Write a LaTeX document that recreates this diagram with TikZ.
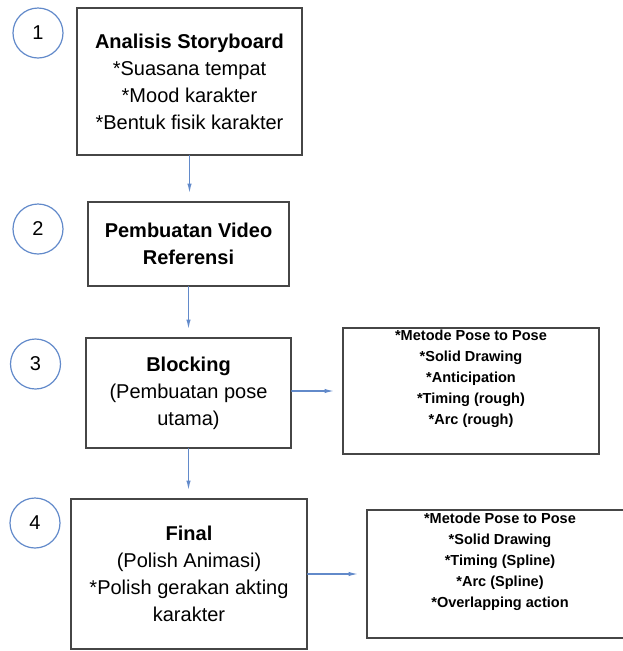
\documentclass[tikz,border=0pt]{standalone}
\usepackage{fontspec}
\setmainfont{Liberation Sans}
\usepackage{tikz}
\usetikzlibrary{arrows.meta, calc}
\definecolor{stepblue}{RGB}{98,138,202}
\definecolor{boxgray}{RGB}{70,70,70}
\def\upx{0.75pt}
\tikzset{
  stepbox/.style={draw=boxgray, line width=1.1pt, inner sep=0, align=center, font=\fontsize{15}{20.25}\selectfont},
  numcirc/.style={circle, draw=stepblue, line width=0.9pt, minimum size=50*\upx, inner sep=0, font=\fontsize{15}{18}\selectfont},
  notetext/.style={align=center, inner sep=0, font=\fontsize{10.9}{15.75}\selectfont\bfseries},
  flow/.style={stepblue, line width=1.2pt, -{Latex[length=8pt,width=3.2pt]}, shorten >=7*\upx}
}

\begin{document}
\begin{tikzpicture}[x=0.75pt, y=-0.75pt, line cap=round]
  \useasboundingbox (0,0) rectangle (623,651);

  \coordinate (S1) at (189.5,81.5);
  \coordinate (S2) at (188.5,244);
  \coordinate (S3) at (188.5,393);
  \coordinate (S4) at (189,574);
  \coordinate (N3) at (471,391);
  \coordinate (N4) at (500,574);

  \node[stepbox, minimum width=225*\upx, minimum height=147*\upx] (b1) at (S1)
    {\textbf{Analisis Storyboard}\\{}*Suasana tempat\\{}*Mood karakter\\{}*Bentuk fisik karakter};
  \node[stepbox, minimum width=201*\upx, minimum height=84*\upx] (b2) at (S2)
    {\textbf{Pembuatan Video}\\\textbf{Referensi}};
  \node[stepbox, minimum width=205*\upx, minimum height=110*\upx] (b3) at (S3)
    {\textbf{Blocking}\\(Pembuatan pose\\utama)};
  \node[stepbox, minimum width=236*\upx, minimum height=150*\upx] (b4) at (S4)
    {\textbf{Final}\\(Polish Animasi)\\{}*Polish gerakan akting\\karakter};

  \node[stepbox, minimum width=256*\upx, minimum height=126*\upx] (r3) at (N3) {};
  \node[stepbox, minimum width=266*\upx, minimum height=128*\upx] (r4) at (N4) {};
  \node[notetext, anchor=north] (r3t) at ($ (r3.north)+(0,2) $)
    {*Metode Pose to Pose\\{}*Solid Drawing\\{}*Anticipation\\{}*Timing (rough)\\{}*Arc (rough)};
  \node[notetext, anchor=north] (r4t) at ($ (r4.north)+(0,3) $)
    {*Metode Pose to Pose\\{}*Solid Drawing\\{}*Timing (Spline)\\{}*Arc (Spline)\\{}*Overlapping action};

  \node[numcirc] (n1) at (38,33) {1};
  \node[numcirc] (n2) at (38,229) {2};
  \node[numcirc] (n3) at (35.5,364) {3};
  \node[numcirc] (n4) at (35,523) {4};

  \draw[flow] (b1.south) -- (b1.south |- b2.north);
  \draw[flow] (b2.south) -- (b2.south |- b3.north);
  \draw[flow] (b3.south) -- (b3.south |- b4.north);
  \draw[flow] (b3.east |- r3.west) -- (r3.west);
  \draw[flow] (b4.east |- r4.west) -- (r4.west);

\end{tikzpicture}
\end{document}
